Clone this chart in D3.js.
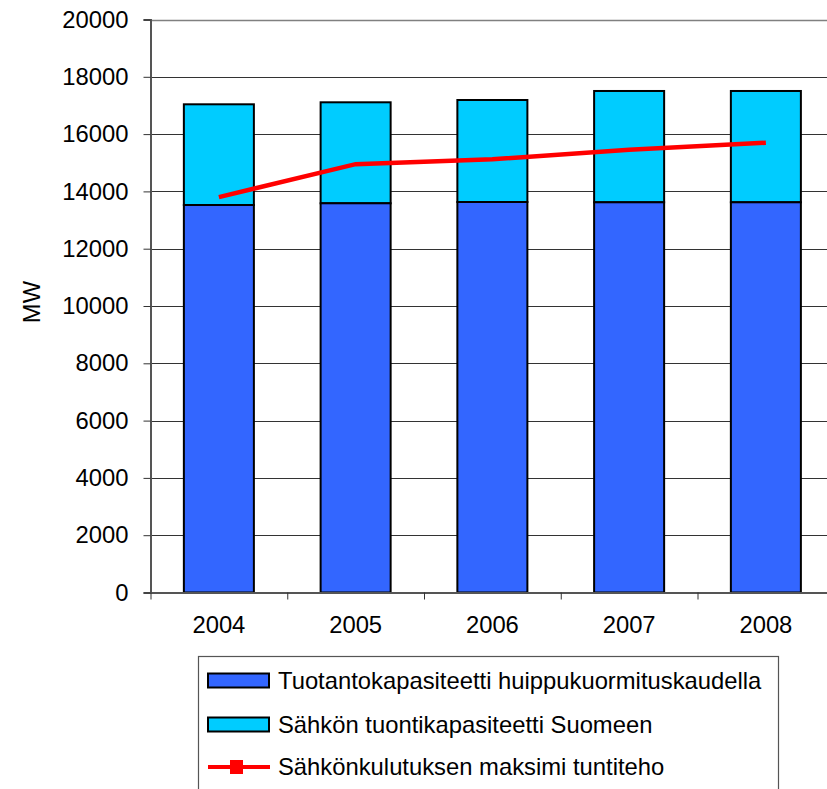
<!DOCTYPE html>
<html><head><meta charset="utf-8">
<script src="https://cdn.jsdelivr.net/npm/d3@7"></script>
<style>body{margin:0;background:#fff}svg{display:block}text{font-family:Arial,"Liberation Sans",sans-serif;fill:#000}</style>
</head><body>
<svg id="c" width="827" height="789"></svg>
<script>
const years = ["2004","2005","2006","2007","2008"];
const production = [13525, 13585, 13630, 13620, 13620];
const importCap = [3515, 3525, 3560, 3885, 3885];
const peakDemand = [13800, 14950, 15120, 15450, 15700];
const yTicks = [0,2000,4000,6000,8000,10000,12000,14000,16000,18000,20000];
const seriesNames = ["Tuotantokapasiteetti huippukuormituskaudella","Sähkön tuontikapasiteetti Suomeen","Sähkönkulutuksen maksimi tuntiteho"];
const colors = ["#3366FF","#00CCFF","#FF0000"];

(function(){
const svg = d3.select("#c");
const fs = 23.8;
const pLeft = 150.5, pRight = 834.25, pTop = 19.5, pBottom = 592.5;
const x = d3.scaleBand().domain(years).range([pLeft, pRight]).paddingInner(0.488).paddingOuter(0.244);
const xs = d3.scaleBand().domain(years).range([pLeft, pRight]);
const y = d3.scaleLinear().domain([0, 20000]).range([pBottom, pTop]);

// gridlines
svg.append("g").selectAll("line").data(yTicks.filter(t => t > 0)).join("line")
  .attr("x1", pLeft).attr("x2", 827).attr("y1", d => Math.round(y(d)) + 0.5).attr("y2", d => Math.round(y(d)) + 0.5)
  .attr("stroke", d => d === 20000 ? "#808080" : "#333").attr("stroke-width", d => d === 20000 ? 1.5 : 1);

// bars
const stackData = years.map((yr, i) => ({yr, p: production[i], t: production[i] + importCap[i]}));
const bars = svg.append("g");
bars.selectAll("rect.top").data(stackData).join("rect")
  .attr("x", d => x(d.yr)).attr("width", x.bandwidth())
  .attr("y", d => y(d.t)).attr("height", d => y(d.p) - y(d.t))
  .attr("fill", colors[1]).attr("stroke", "#000").attr("stroke-width", 2);
bars.selectAll("rect.bot").data(stackData).join("rect")
  .attr("x", d => x(d.yr)).attr("width", x.bandwidth())
  .attr("y", d => y(d.p)).attr("height", d => y(0) - y(d.p))
  .attr("fill", colors[0]).attr("stroke", "#000").attr("stroke-width", 2);

// line
const line = d3.line().x((d, i) => xs(years[i]) + xs.bandwidth() / 2).y(d => y(d));
svg.append("path").datum(peakDemand).attr("d", line)
  .attr("fill", "none").attr("stroke", colors[2]).attr("stroke-width", 4.5);

// y axis
const yAxis = d3.axisLeft(y).tickValues(yTicks).tickSize(7).tickPadding(15).tickFormat(d3.format("d"));
const gy = svg.append("g").attr("transform", `translate(${pLeft},0)`).call(yAxis);
gy.select(".domain").attr("stroke", "#555").attr("stroke-width", 2);
gy.selectAll(".tick line").attr("stroke", "#333");
gy.selectAll("text").attr("font-size", fs).attr("font-family", "Arial, 'Liberation Sans', sans-serif");

// x axis
const xAxis = d3.axisBottom(xs).tickSize(0).tickPadding(24);
const gx = svg.append("g").attr("transform", `translate(0,${pBottom})`).call(xAxis);
gx.select(".domain").attr("stroke", "#555").attr("stroke-width", 2);
gx.selectAll("text").attr("font-size", fs).attr("font-family", "Arial, 'Liberation Sans', sans-serif");
svg.append("g").selectAll("line").data(years).join("line")
  .attr("x1", d => xs(d) + 0.5).attr("x2", d => xs(d) + 0.5)
  .attr("y1", pBottom).attr("y2", pBottom + 7).attr("stroke", "#333");

// y title
svg.append("text").attr("transform", "translate(40,302) rotate(-90)")
  .attr("text-anchor", "middle").attr("font-size", fs).text("MW");

// legend
const lg = svg.append("g");
lg.append("rect").attr("x", 198.5).attr("y", 656.5).attr("width", 580).attr("height", 150)
  .attr("fill", "#fff").attr("stroke", "#555").attr("stroke-width", 1.2);
const rowsY = [680.5, 724.5, 767];
seriesNames.forEach((name, i) => {
  if (i < 2) {
    lg.append("rect").attr("x", 208).attr("y", rowsY[i] - 7).attr("width", 61).attr("height", 14)
      .attr("fill", colors[i]).attr("stroke", "#000").attr("stroke-width", 2);
  } else {
    lg.append("line").attr("x1", 208).attr("x2", 270).attr("y1", rowsY[i]).attr("y2", rowsY[i])
      .attr("stroke", colors[2]).attr("stroke-width", 4);
    lg.append("rect").attr("x", 230).attr("y", rowsY[i] - 7).attr("width", 13).attr("height", 14)
      .attr("fill", colors[2]);
  }
  lg.append("text").attr("x", 278).attr("y", rowsY[i]).attr("dy", "0.35em")
    .attr("font-size", fs).text(name);
});
})();
</script>
</body></html>
